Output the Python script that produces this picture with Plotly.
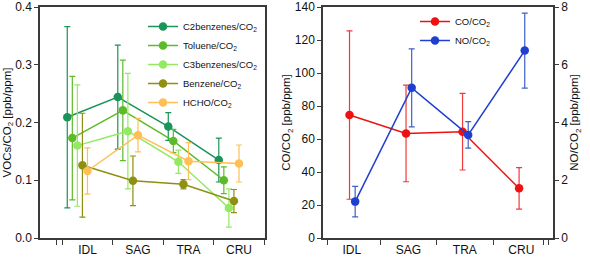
import plotly.graph_objects as go

categories = ["IDL", "SAG", "TRA", "CRU"]

c2benz = [0.209, 0.244, 0.193, 0.135]
c2benz_err = [0.157, 0.090, 0.024, 0.038]
toluene = [0.173, 0.221, 0.168, 0.100]
toluene_err = [0.107, 0.087, 0.020, 0.023]
c3benz = [0.160, 0.185, 0.132, 0.052]
c3benz_err = [0.105, 0.100, 0.020, 0.033]
benzene = [0.126, 0.099, 0.093, 0.064]
benzene_err = [0.090, 0.043, 0.008, 0.020]
hcho = [0.116, 0.178, 0.133, 0.129]
hcho_err = [0.040, 0.029, 0.032, 0.032]

co = [74.5, 63.4, 64.4, 30.1]
co_err = [51.0, 29.3, 23.2, 12.6]
no = [1.26, 5.20, 3.57, 6.49]
no_err = [0.53, 1.35, 0.46, 1.30]

W, H = 590, 258
FONT = "Liberation Sans, Arial, sans-serif"
AX = "#3a3a3a"

fig = go.Figure()

voc_series = [
    ("C2benzenes/CO<sub>2</sub>", c2benz, c2benz_err, "#1a9458", "#1a9458"),
    ("Toluene/CO<sub>2</sub>", toluene, toluene_err, "#5dbb2a", "#5dbb2a"),
    ("C3benzenes/CO<sub>2</sub>", c3benz, c3benz_err, "#93ea62", "#93ea62"),
    ("Benzene/CO<sub>2</sub>", benzene, benzene_err, "#8f8f12", "#8f8f12"),
    ("HCHO/CO<sub>2</sub>", hcho, hcho_err, "#ffbf57", "#ffbf57"),
]
voc_offsets = [-0.40, -0.30, -0.20, -0.10, 0.0]
for (name, vals, errs, col, ecol), off in zip(voc_series, voc_offsets):
    fig.add_trace(go.Scatter(
        x=[i + off for i in range(len(categories))], y=vals,
        mode="lines+markers", name=name,
        line=dict(color=col, width=1.5),
        marker=dict(color=col, size=8.5),
        error_y=dict(type="data", array=errs, visible=True, color=ecol, thickness=1.2, width=3),
        xaxis="x", yaxis="y", legend="legend",
    ))

fig.add_trace(go.Scatter(
    x=[i - 0.04 for i in range(len(categories))], y=co,
    mode="lines+markers", name="CO/CO<sub>2</sub>",
    line=dict(color="#ee1111", width=1.5),
    marker=dict(color="#ee1111", size=8.5),
    error_y=dict(type="data", array=co_err, visible=True, color="#f03a3a", thickness=1.2, width=3),
    xaxis="x2", yaxis="y2", legend="legend2",
))
fig.add_trace(go.Scatter(
    x=[i + 0.06 for i in range(len(categories))], y=no,
    mode="lines+markers", name="NO/CO<sub>2</sub>",
    line=dict(color="#1f3fd0", width=1.5),
    marker=dict(color="#1f3fd0", size=8.5),
    error_y=dict(type="data", array=no_err, visible=True, color="#3f60c8", thickness=1.2, width=3),
    xaxis="x2", yaxis="y3", legend="legend2",
))

tickfont = dict(family=FONT, size=12, color="#111")
titlefont = dict(family=FONT, size=11.5, color="#111")

def xax(domain, rng, minor_vals, anchor):
    return dict(
        domain=domain, range=rng, anchor=anchor,
        tickmode="array", tickvals=list(range(len(categories))), ticktext=categories,
        ticks="", showgrid=False, zeroline=False,
        showline=True, linecolor=AX, linewidth=1.5, mirror=True,
        tickfont=tickfont,
        minor=dict(tickmode="array", tickvals=minor_vals, ticks="outside", ticklen=5,
                   tickcolor=AX, tickwidth=1, showgrid=False),
        automargin=False,
    )

fig.update_layout(
    width=W, height=H,
    margin=dict(l=0, r=0, t=7, b=20),
    paper_bgcolor="white", plot_bgcolor="white",
    font=dict(family=FONT, size=11, color="#111"),
    xaxis=xax([40 / W, 265 / W], [-0.94, 3.515], [-0.62, -0.5, 0.5, 1.5, 2.5, 3.5], "y"),
    xaxis2=xax([323 / W, 553 / W], [-0.509, 3.56], [-0.43, 0.5, 1.5, 2.5, 3.4, 3.48], "y2"),
    yaxis=dict(
        domain=[0, 1], range=[0, 0.4], dtick=0.1, tickformat=".1f", anchor="x",
        ticks="outside", ticklen=4, tickcolor=AX, showgrid=False, zeroline=False,
        showline=True, linecolor=AX, linewidth=1.5, mirror=True,
        tickfont=tickfont, automargin=False,
        title=dict(text="VOCs/CO<sub>2</sub> [ppb/ppm]", font=titlefont, standoff=1),
    ),
    yaxis4=dict(
        overlaying="y", side="right", anchor="x", range=[0, 0.4], dtick=0.1,
        ticks="inside", ticklen=4, tickcolor=AX, showticklabels=False,
        showgrid=False, zeroline=False, showline=False,
    ),
    yaxis2=dict(
        domain=[0, 1], range=[0, 140], dtick=20, anchor="x2",
        ticks="outside", ticklen=4, tickcolor=AX, showgrid=False, zeroline=False,
        showline=True, linecolor=AX, linewidth=1.5,
        tickfont=tickfont, automargin=False,
        title=dict(text="CO/CO<sub>2</sub> [ppb/ppm]", font=titlefont, standoff=0),
    ),
    yaxis3=dict(
        overlaying="y2", side="right", anchor="x2", range=[0, 8], dtick=2,
        ticks="outside", ticklen=4, tickcolor=AX, showgrid=False, zeroline=False,
        showline=True, linecolor=AX, linewidth=1.5,
        tickfont=tickfont, automargin=False,
        title=dict(text="NO/CO<sub>2</sub> [ppb/ppm]", font=titlefont, standoff=2),
    ),
    legend=dict(
        x=143 / W, y=1 - (12 - 7) / 231, xanchor="left", yanchor="top",
        font=dict(family=FONT, size=9.5, color="#111"), bgcolor="rgba(0,0,0,0)",
        tracegroupgap=0,
    ),
    legend2=dict(
        x=415 / W, y=1.0, xanchor="left", yanchor="top",
        font=dict(family=FONT, size=9.5, color="#111"), bgcolor="rgba(0,0,0,0)",
    ),
    showlegend=True,
)

fig.write_html("out.html")
